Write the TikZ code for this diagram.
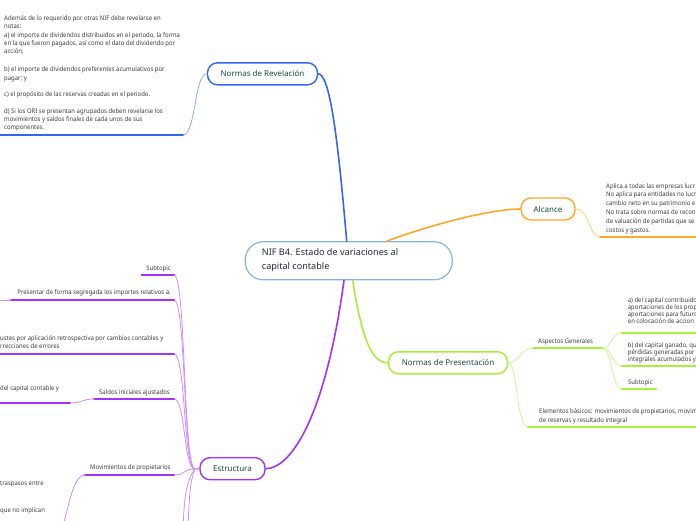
\documentclass[tikz,border=0pt]{standalone}
\usepackage{fontspec}
\setmainfont{Noto Sans}
\newfontfamily\notefont[FakeStretch=0.93]{Noto Sans}
\usetikzlibrary{calc}
\definecolor{revblue}{HTML}{3366F5}
\definecolor{revlite}{HTML}{8FA8FF}
\definecolor{alcor}{HTML}{FFA726}
\definecolor{alclite}{HTML}{FFCF7A}
\definecolor{preslime}{HTML}{A6F03A}
\definecolor{preslite}{HTML}{C9F893}
\definecolor{estpur}{HTML}{A733F2}
\definecolor{estlite}{HTML}{D08CFA}
\definecolor{mainrim}{HTML}{86B6E0}
\definecolor{labelink}{HTML}{1B4D3E}
\definecolor{mainink}{HTML}{1F2A3A}
\definecolor{noteink}{HTML}{3A3A3A}
\tikzset{fig/.style={line join=round,line cap=round},
  topic/.style={draw=#1,line width=1.4pt,fill=white,rounded corners=10pt,minimum height=22pt,inner sep=0pt,text=labelink,font=\fontsize{8}{10}\selectfont},
  note/.style={anchor=north west,inner sep=0pt,text=noteink,align=left,font=\notefont\fontsize{6.4}{#1}\selectfont},note/.default=8,
  under/.style={draw=#1,line width=2pt},
  twig/.style={draw=#1,line width=0.8pt},
  trunk/.style={draw=#1,line width=1.6pt}}

\begin{document}
\begin{tikzpicture}[fig,x=1pt,y=-1pt]
  \useasboundingbox (0,0) rectangle (696,520);\clip (0,0) rectangle (696,520);
  % central topic and main branches
  \node[draw=mainrim,line width=1.2pt,fill=white,rounded corners=18pt,minimum width=207pt,minimum height=38pt,inner sep=0pt] (main) at (348.7,260.8) {};
  \node[anchor=north west,inner sep=0pt,text=mainink,align=left,font=\fontsize{9.1}{14.3}\selectfont] (maintxt) at (261.7,248.3) {NIF B4. Estado de variaciones al\\capital contable};
  \node[topic=revblue,minimum width=110pt] (rev) at (262.5,73.8) {Normas de Revelación};
  \node[topic=alcor,minimum width=54pt] (alc) at (548,209) {Alcance};
  \node[topic=preslime,minimum width=119pt] (pres) at (448,362.8) {Normas de Presentación};
  \node[topic=estpur,minimum width=65pt] (est) at (232.5,468.7) {Estructura};
  \draw[trunk=revblue] ([xshift=-2pt]main.north) .. controls (338,140) and (330,73.8) .. (rev.east);
  \draw[trunk=alcor] ([xshift=38pt]main.north) .. controls (430,225) and (490,209) .. (alc.west);
  \draw[trunk=preslime] ([xshift=4pt]main.south) .. controls (362,340) and (372,362.8) .. (pres.west);
  \draw[trunk=estpur] ([xshift=-4.7pt]main.south) .. controls (325,420) and (290,468.7) .. (est.east);
  % Normas de Revelacion
  \coordinate (revA) at (183,135);\coordinate (revB) at (0,135);
  \draw[twig=revlite] (rev.west) .. controls (194,73.8) and (196,135) .. (revA);
  \draw[under=revblue] (revA) -- (revB);
  \node[note=8.3] (rev1) at (4,15.3) {Además de lo requerido por otras NIF debe revelarse en\\notas:\\a) el importe de dividendos distribuidos en el periodo, la forma\\en la que fueron pagados, así como el dato del dividendo por\\acción;};
  \node[note=8.8] (rev2) at (4,66.3) {b) el importe de dividendos preferentes acumulativos por\\pagar; y};
  \node[note] (rev3) at (4,91) {c) el propósito de las reservas creadas en el periodo.};
  \node[note=7.6] (rev4) at (4,108.9) {d) Si los ORI se presentan agrupados deben revelarse los\\movimientos y saldos finales de cada unos de sus\\componentes.};
  % Alcance
  \coordinate (alcA) at (600,236.5);\coordinate (alcB) at (696,236.5);
  \draw[twig=alclite] (alc.east) .. controls (590,209) and (588,236.5) .. (alcA);
  \draw[under=alcor] (alcA) -- (alcB);
  \node[note=8.9] (alctxt) at (606,183) {Aplica a todas las empresas lucr\\No aplica para entidades no lucr\\cambio neto en su patrimonio e\\No trata sobre normas de recon\\de valuación de partidas que se\\costos y gastos.};
  % Normas de Presentacion
  \coordinate (aspA) at (533,348);\coordinate (aspB) at (602,348);
  \draw[twig=preslite] (pres.east) .. controls (520,362.8) and (520,348) .. (aspA);
  \draw[under=preslime] (aspA) -- (aspB);
  \node[note] (asp) at (538,338) {Aspectos Generales};
  \foreach \nm/\yy/\xe in {capa/332.5/696,capb/366/696,psub/389/656}{
    \coordinate (\nm) at (622,\yy);\coordinate (\nm e) at (\xe,\yy);
    \draw[twig=preslite] (aspB) .. controls (612,348) and (612,\yy) .. (\nm);
    \draw[under=preslime] (\nm) -- (\nm e);}
  \node[note=7.2] (capatxt) at (627.7,297) {a) del capital contribuido\\aportaciones de los prop\\aportaciones para futuro\\en colocación de accion};
  \node[note=7.2] (capbtxt) at (627.7,342.3) {b) del capital ganado, qu\\pérdidas generadas por\\integrales acumulados y};
  \node[note] (psubtxt) at (628,379) {Subtopic};
  \coordinate (elemA) at (528,427);\coordinate (elemB) at (696,427);
  \draw[twig=preslite] (pres.east) .. controls (518,362.8) and (516,427) .. (elemA);
  \draw[under=preslime] (elemA) -- (elemB);
  \node[note=9.5] (elem) at (539,408) {Elementos básicos: movimientos de propietarios, movim\\de reservas y resultado integral};
  % Estructura
  \coordinate (hub) at (195,469);
  \draw[twig=estpur] (hub) -- (est.west);
  \foreach \nm/\yy/\xs in {esub/275/141.7,segr/300/11,ajus/354/0,sald/399/94,movp/475/85}{
    \coordinate (\nm) at (174,\yy);\coordinate (\nm s) at (\xs,\yy);
    \draw[twig=estlite] (\nm) .. controls (186,\yy) and (183,469) .. (hub);
    \draw[under=estpur] (\nm) -- (\nm s);}
  \coordinate (down1) at (183,530);\coordinate (down2) at (188,530);
  \draw[twig=estlite] (hub) .. controls (186,480) and (184,500) .. (down1);
  \draw[twig=estlite] (hub) .. controls (190,480) and (189,500) .. (down2);
  \coordinate (segrL) at (0,300);\draw[twig=estlite] (segrs) -- (segrL);
  \coordinate (saldA) at (70,403);\coordinate (saldB) at (0,403);
  \draw[twig=estlite] (salds) .. controls (82,399) and (82,403) .. (saldA);
  \draw[under=estpur] (saldA) -- (saldB);
  \coordinate (movpD) at (62,530);
  \draw[twig=estlite] (movps) .. controls (74,475) and (70,500) .. (movpD);
  \node[note,anchor=north east] (esubtxt) at (171,265.3) {Subtopic};
  \node[note,anchor=north east] (segrtxt) at (171,289) {Presentar de forma segregada los importes relativos a:};
  \node[note=7.7] (ajustxt) at (0,335.3) {ustes por aplicación retrospectiva por cambios contables y\\rrecciones de errores};
  \node[note] (saldtxt) at (99,389) {Saldos iniciales ajustados};
  \node[note] (saldsub) at (0,385.3) {del capital contable y};
  \node[note] (movptxt) at (90,464.7) {Movimientos de propietarios};
  \node[note] (movp1) at (0,481) {traspasos entre};
  \node[note] (movp2) at (0,507) {que no implican};
\end{tikzpicture}
\end{document}
